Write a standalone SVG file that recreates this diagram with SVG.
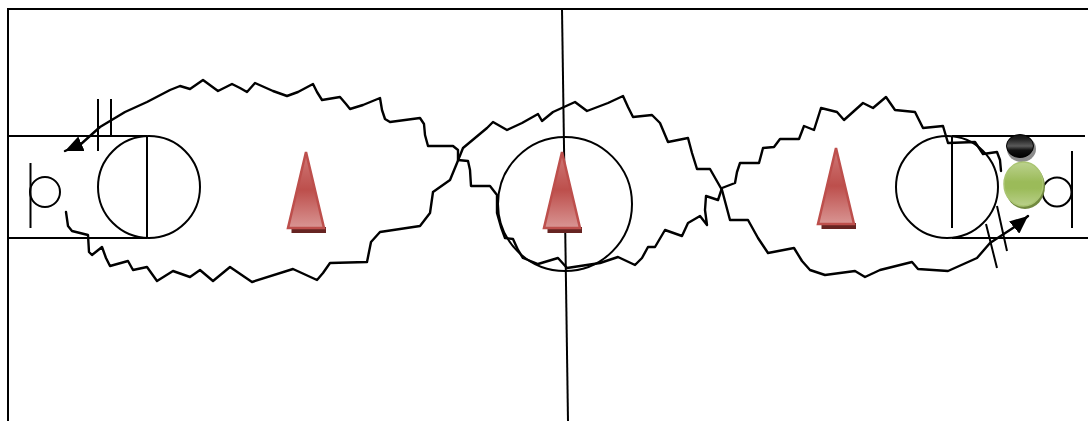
<svg xmlns="http://www.w3.org/2000/svg" xmlns:xlink="http://www.w3.org/1999/xlink" width="1088" height="421" viewBox="0 0 1088 421">
<style>
.ln{fill:none;stroke:#000;stroke-width:2;stroke-linecap:butt}
.cv{fill:none;stroke:#000;stroke-width:2.400;stroke-linejoin:round;stroke-linecap:round}
</style>
<defs>
<linearGradient id="red" x1="0" y1="0" x2="0" y2="1">
<stop offset="0" stop-color="#cf7a78"/><stop offset="0.5" stop-color="#bd4f4c"/><stop offset="0.95" stop-color="#d68e8c"/><stop offset="1" stop-color="#d99694"/>
</linearGradient>
<linearGradient id="grn" x1="0" y1="0" x2="0" y2="1">
<stop offset="0" stop-color="#bcd28e"/><stop offset="0.45" stop-color="#9bbb59"/><stop offset="0.6" stop-color="#9bbb59"/><stop offset="1" stop-color="#b9d08a"/>
</linearGradient>
<linearGradient id="blk" x1="0" y1="0" x2="0" y2="1">
<stop offset="0" stop-color="#111"/><stop offset="0.2" stop-color="#222"/><stop offset="0.5" stop-color="#5a5a5a"/><stop offset="0.68" stop-color="#111"/><stop offset="1" stop-color="#000"/>
</linearGradient>
<marker id="ah" viewBox="0 0 18 16" refX="18" refY="8" markerWidth="18" markerHeight="16" markerUnits="userSpaceOnUse" orient="auto-start-reverse">
<path d="M0,0L18,8L0,16Z" fill="#000"/>
</marker>
<g id="cone">
<polygon points="-14.500,84 20,84 20,78 -14.500,78" fill="#662422" transform="translate(0,-1)"/>
<polygon points="0,2 18,78 -18,78" fill="url(#red)" stroke="#bd4f4c" stroke-width="2.500"/>
</g>
</defs>
<g id="frame">
<path class="ln" d="M8,421V9H1088"/>
<path class="ln" d="M562,9L568,421"/>
</g>
<g id="left-valve">
<path class="ln" d="M8,136H147M8,238H147M147,136V238"/>
<circle class="ln" cx="149" cy="187" r="51"/>
<path class="ln" d="M98,99V151M111,99V136"/>
<path class="ln" d="M30.500,163V228"/>
<circle class="ln" cx="45" cy="192" r="15"/>
</g>
<g id="center-circle">
<circle class="ln" cx="565" cy="204" r="67"/>
</g>
<g id="right-valve">
<path class="ln" d="M952,136H1085M952,238H1088M952,137V228"/>
<circle class="ln" cx="947" cy="187" r="51"/>
<path class="ln" d="M997,206L1007,251M986,224L997,268"/>
<path class="ln" d="M1072,151V228"/>
<circle class="ln" cx="1057" cy="192" r="14.500"/>
</g>
<g id="connectors">
<path class="cv" marker-start="url(#ah)" d="M65,151L81,144L100,127L125,112L147,102L170,90L180,86L190,89L203,80L218,91L232,84L240,88L247,92L255,83L273,91L287,96L298,92L313,84L317,92L322,100L340,97L346,104L350,109L363,105L380,98L382,110L385,119L390,122L420,118L424,124L425,135L428,146L453,146L458,150L458,160L468,161L470,170L471,186L490,186L497,195L497,213L501,227L505,238L513,239L518,250L523,258L538,264L558,258L567,268L600,263L618,257L635,265L642,258L648,247L655,247L665,230L682,236L688,223L700,216L707,225L705,210L706,196L718,200L722,188L735,183L737,172L740,163L759,163L763,148L774,147L780,139L799,139L804,126L814,130L821,108L837,112L844,120L863,103L873,108L886,97L895,110L915,112L919,120L923,128L943,126L948,143L975,142L983,154L997,152L1000,160L1001,171"/>
<path class="cv" marker-end="url(#ah)" d="M66,212L68,226L72,231L88,235L89,252L92,255L102,247L106,258L110,266L128,261L133,270L147,267L157,281L173,271L190,277L200,270L213,281L230,267L252,282L293,269L317,280L323,273L330,263L367,262L371,242L380,232L420,226L430,213L433,192L450,180L457,163L463,148L487,128L493,122L507,130L522,123L538,114L542,121L553,112L575,102L587,111L608,103L623,96L628,107L633,117L652,115L660,123L668,142L688,138L692,153L697,169L710,169L722,190L730,220L748,220L758,238L768,253L794,248L802,261L810,270L825,275L855,271L865,277L880,270L912,262L918,269L948,271L977,258L990,243L1016,226L1028,216"/>
</g>
<g id="cone-left"><use xlink:href="#cone" href="#cone" x="306" y="150"/></g>
<g id="cone-center"><use xlink:href="#cone" href="#cone" x="562" y="150"/></g>
<g id="cone-right"><use xlink:href="#cone" href="#cone" x="836" y="146"/></g>
<g id="black-ball">
<ellipse cx="1021.500" cy="149" rx="14.500" ry="13" fill="#8c8c8c"/>
<ellipse cx="1020" cy="146" rx="13.500" ry="11.500" fill="url(#blk)" stroke="#000" stroke-width="1"/>
</g>
<g id="green-ball">
<ellipse cx="1025" cy="186.500" rx="20" ry="22.500" fill="#71893f"/>
<ellipse cx="1023.500" cy="184" rx="19.500" ry="22" fill="url(#grn)" stroke="#aac572" stroke-width="1.500"/>
</g>
</svg>
